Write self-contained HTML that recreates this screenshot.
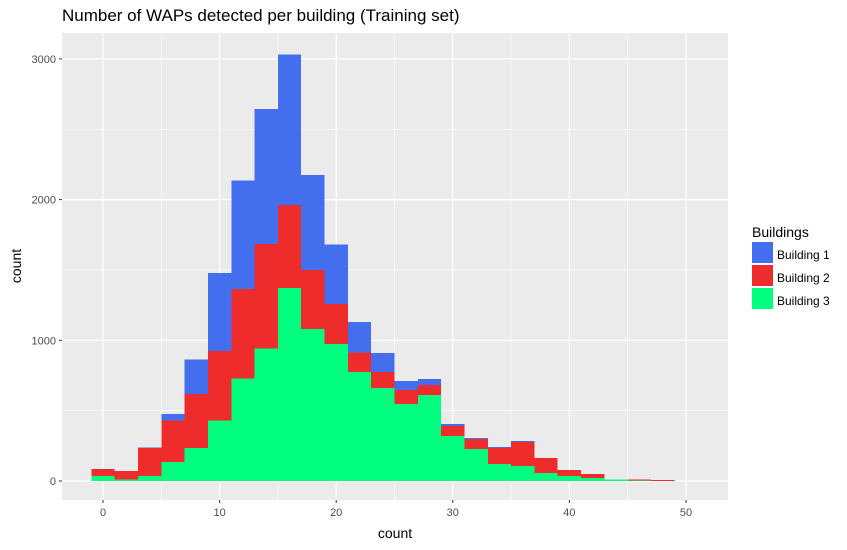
<!DOCTYPE html>
<html><head><meta charset="utf-8"><style>
body{margin:0;background:#fff;font-family:"Liberation Sans",sans-serif}
</style></head><body>
<svg id="c" width="847" height="545" xmlns="http://www.w3.org/2000/svg" style="font-family:'Liberation Sans',sans-serif">
<text x="62" y="21" font-size="17" fill="#000">Number of WAPs detected per building (Training set)</text>
<rect x="62" y="33" width="666" height="467" fill="#ebebeb"/>
<g id="grid"></g>
<g id="bars" shape-rendering="crispEdges"></g>
<g id="axes"></g>
<text x="395" y="538" font-size="14" text-anchor="middle">count</text>
<text x="0" y="0" font-size="14" text-anchor="middle" transform="translate(21,266) rotate(-90)">count</text>
<g>
<text x="752" y="237" font-size="14">Buildings</text>
<rect x="752" y="242" width="21" height="21" fill="#436EEE"/>
<text x="777" y="259" font-size="12">Building 1</text>
<rect x="752" y="265" width="21" height="21" fill="#EE2C2C"/>
<text x="777" y="282" font-size="12">Building 2</text>
<rect x="752" y="288" width="21" height="21" fill="#00FF7F"/>
<text x="777" y="305" font-size="12">Building 3</text>
</g>
</svg>
<script>
const binCenters=[0,2,4,6,8,10,12,14,16,18,20,22,24,26,28,30,32,34,36,38,40,42,44,46,48];
const building3=[35,10,35,135,235,430,730,940,1372,1080,975,775,660,547,611,320,227,120,107,57,35,21,10,2,0];
const building2=[50,60,200,295,385,495,635,745,588,420,283,137,115,100,71,70,73,115,170,106,43,29,0,10,6];
const building1=[0,0,2,45,245,553,770,960,1070,675,422,218,135,63,43,15,5,7,7,0,0,0,0,0,0];
const xTicks=[0,10,20,30,40,50];
const yTicks=[0,1000,2000,3000];
const binWidth=2;
const NS='http://www.w3.org/2000/svg';
const px0=103, pxPerUnit=11.66, py0=481, pyPerUnit=0.1407;
const X=v=>px0+v*pxPerUnit;
const Y=v=>py0-v*pyPerUnit;
function mk(tag,attrs,parent){const e=document.createElementNS(NS,tag);for(const k in attrs)e.setAttribute(k,attrs[k]);parent.appendChild(e);return e;}
const grid=document.getElementById('grid'),bars=document.getElementById('bars'),axes=document.getElementById('axes');
for(let i=0;i<xTicks.length-1;i++){const v=(xTicks[i]+xTicks[i+1])/2;const l=mk('line',{x1:X(v),x2:X(v),y1:33,y2:500,stroke:'#fff','stroke-width':0.6},grid);

}
for(let i=0;i<yTicks.length;i++){const v=yTicks[i]+500;const l=mk('line',{x1:62,x2:728,y1:Y(v),y2:Y(v),stroke:'#fff','stroke-width':0.6},grid);

}
xTicks.forEach(v=>{const l=mk('line',{x1:X(v),x2:X(v),y1:33,y2:500,stroke:'#fff','stroke-width':1.2},grid);


const t=mk('line',{x1:X(v),x2:X(v),y1:500,y2:503,stroke:'#333','stroke-width':1},axes);


const tx=mk('text',{x:X(v),y:516,'font-size':11,fill:'#4d4d4d','text-anchor':'middle'},axes);tx.textContent=v;

});
yTicks.forEach(v=>{const l=mk('line',{x1:62,x2:728,y1:Y(v),y2:Y(v),stroke:'#fff','stroke-width':1.2},grid);


const t=mk('line',{x1:59,x2:62,y1:Y(v),y2:Y(v),stroke:'#333','stroke-width':1},axes);


const tx=mk('text',{x:56,y:Y(v)+4,'font-size':11,fill:'#4d4d4d','text-anchor':'end'},axes);tx.textContent=v;

});
const series=[{d:building3,c:'#00FF7F',n:'building-3'},{d:building2,c:'#EE2C2C',n:'building-2'},{d:building1,c:'#436EEE',n:'building-1'}];
binCenters.forEach((c,i)=>{let base=0;const x1=X(c-binWidth/2),x2=X(c+binWidth/2);
series.forEach(s=>{const v=s.d[i];if(v<=0){return;}const top=base+v;
const r=mk('rect',{x:x1,y:Y(top),width:x2-x1,height:Y(base)-Y(top),fill:s.c},bars);


base=top;});});
</script>
</body></html>
